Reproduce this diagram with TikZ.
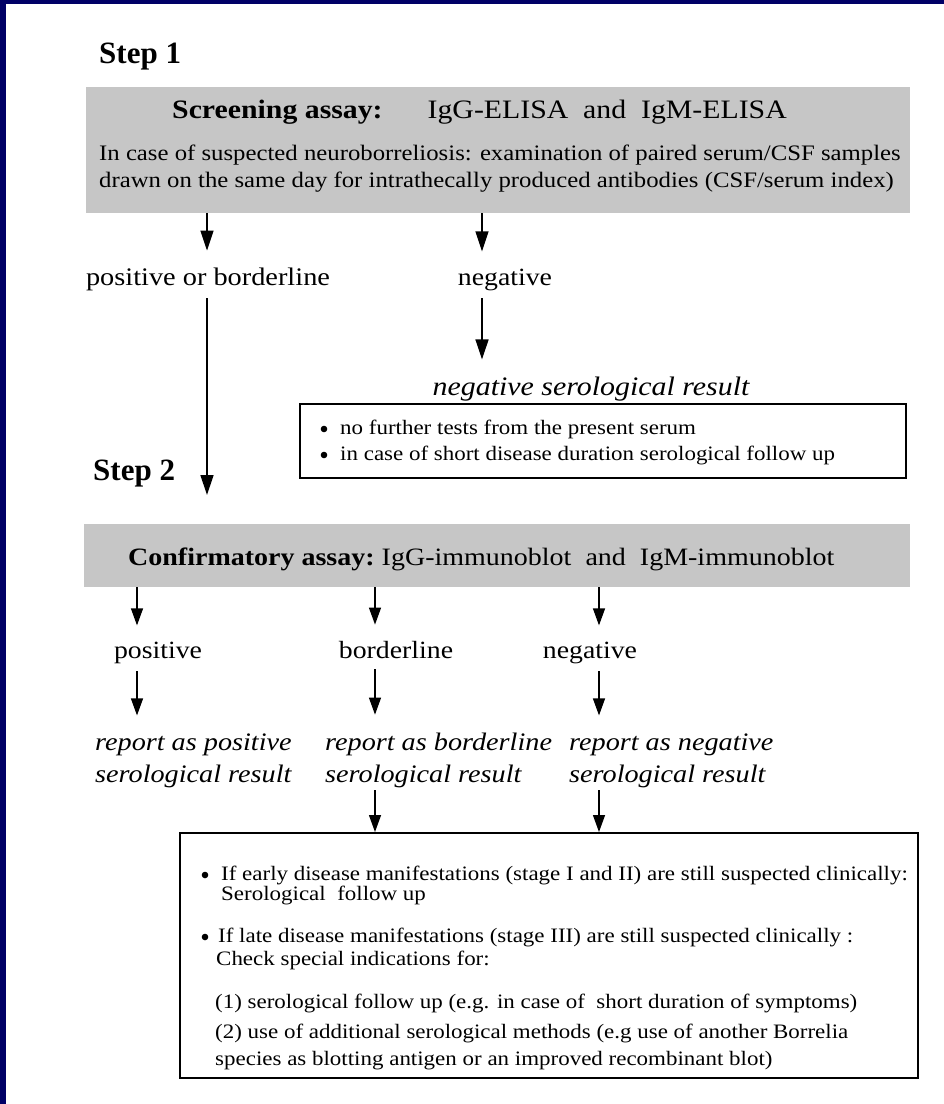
\documentclass[tikz,border=0pt]{standalone}
\usepackage{fontspec}
\setmainfont{Liberation Serif}[FakeStretch=1.12]
\newfontfamily\stepfont{Liberation Serif}
\usetikzlibrary{arrows.meta}
\definecolor{navyblue}{RGB}{0,0,102}
\definecolor{boxgray}{RGB}{198,198,198}
\newcommand\fsz[1]{\fontsize{#1pt}{#1pt}\selectfont}
\begin{document}
\begin{tikzpicture}[x=1pt,y=-1pt,
  txt/.style={inner sep=0pt, anchor=base west},
  ctxt/.style={inner sep=0pt, anchor=base},
  graybox/.style={fill=boxgray, draw=none, inner sep=0pt, anchor=north west},
  whitebox/.style={draw=black, line width=1.6pt, fill=white, inner sep=0pt, anchor=north west},
  bigarr/.style={line width=1.3pt, -{Triangle[width=13pt,length=20pt]}},
  arr/.style={line width=1.3pt, -{Triangle[width=12pt,length=17pt]}},
  steplbl/.style={txt, font=\stepfont\bfseries\fsz{31}},
  lbl/.style={ctxt, font=\fsz{24.8}},
  rep/.style={txt, font=\itshape\fsz{25.2}},
  boxtxt/.style={txt, font=\fsz{20.5}},
  bulletdot/.style={fill=black}
]
\fill[navyblue] (0,0) rectangle (944,1104);
\fill[white] (6,4) rectangle (944,1104);
\useasboundingbox (0,0) rectangle (944,1104);

% arrow columns
\coordinate (xa) at (207,0);
\coordinate (xb) at (482,0);
\coordinate (xc1) at (137,0);
\coordinate (xc2) at (375,0);
\coordinate (xc3) at (599,0);

% Step 1
\node[steplbl] (s1) at (99,63) {Step 1};
\node[graybox, minimum width=824pt, minimum height=126pt] (g1) at (86,87) {};
\node[txt, font=\fsz{26.6}] (h1) at (172,118) {\textbf{Screening assay:}\hspace{45pt}IgG-ELISA\ \ and\ \ IgM-ELISA};
\node[txt, font=\fsz{22.1}] (l1) at (99,160) {In case of suspected neuroborreliosis: examination of paired serum/CSF samples};
\node[txt, font=\fsz{22.1}] (l2) at (99,187) {drawn on the same day for intrathecally produced antibodies (CSF/serum index)};

\node[ctxt, font=\fsz{25.3}] (pob) at (208,285) {positive or borderline};
\node[lbl] (neg1) at (505,285) {negative};
\node[ctxt, font=\itshape\fsz{26.7}] (nsr) at (591,395) {negative serological result};

\node[whitebox, minimum width=606pt, minimum height=74pt] (nb) at (299,403) {};
\node[boxtxt] (nb1) at (319,434) {\hspace{21pt}no further tests from the present serum};
\node[boxtxt] (nb2) at (319,460) {\hspace{21pt}in case of short disease duration serological follow up};
\fill[bulletdot] ([shift={(5,-5)}]nb1.base west) circle (3.3);
\fill[bulletdot] ([shift={(5,-5)}]nb2.base west) circle (3.3);

% Step 2
\node[steplbl] (s2) at (93,480) {Step 2};
\node[graybox, minimum width=826pt, minimum height=63pt] (g2) at (84,524) {};
\node[txt, font=\fsz{25}] (h2) at (128,565) {\textbf{Confirmatory assay:}\ IgG-immunoblot\ \ and\ \ IgM-immunoblot};

\node[lbl] (p2) at (158,658) {positive};
\node[lbl] (bl2) at (396,658) {borderline};
\node[lbl] (ng2) at (590,658) {negative};

\node[rep] (r1a) at (95,750) {report as positive};
\node[rep] (r1b) at (95,782) {serological result};
\node[rep] (r2a) at (325,750) {report as borderline};
\node[rep] (r2b) at (325,782) {serological result};
\node[rep] (r3a) at (569,750) {report as negative};
\node[rep] (r3b) at (569,782) {serological result};

\node[whitebox, minimum width=738pt, minimum height=245pt] (eb) at (179,832) {};
\node[boxtxt] (e1) at (200,880) {\hspace{21pt}If early disease manifestations (stage I and II) are still suspected clinically:};
\node[boxtxt] (e2) at (221,900) {Serological\ \ follow up};
\node[boxtxt] (e3) at (200,942) {\hspace{18pt}If late disease manifestations (stage III) are still suspected clinically :};
\node[boxtxt] (e4) at (216,965) {Check special indications for:};
\node[boxtxt] (e5) at (215,1008) {(1) serological follow up (e.g. in case of\ \ short duration of symptoms)};
\node[boxtxt] (e6) at (215,1038) {(2) use of additional serological methods (e.g use of another Borrelia};
\node[boxtxt] (e7) at (215,1065) {species as blotting antigen or an improved recombinant blot)};
\fill[bulletdot] ([shift={(5,-5)}]e1.base west) circle (3.3);
\fill[bulletdot] ([shift={(5,-5)}]e3.base west) circle (3.3);

% connectors
\draw[bigarr, shorten >=16.7pt] (g1.south -| xa) -- (pob.north -| xa);
\draw[bigarr, shorten >=17pt] (g1.south -| xb) -- (neg1.north -| xb);
\draw[bigarr, shorten <=7.5pt, shorten >=29pt] (pob.south -| xa) -- (g2.north -| xa);
\draw[bigarr, shorten <=7.6pt, shorten >=16.8pt] (neg1.south -| xb) -- (nsr.north -| xb);

\draw[arr, shorten >=16pt] (g2.south -| xc1) -- (p2.north -| xc1);
\draw[arr, shorten >=16pt] (g2.south -| xc2) -- (bl2.north -| xc2);
\draw[arr, shorten >=16pt] (g2.south -| xc3) -- (ng2.north -| xc3);

\draw[arr, shorten <=7.6pt, shorten >=17.7pt] (p2.south -| xc1) -- (r1a.north -| xc1);
\draw[arr, shorten <=11pt, shorten >=17.7pt] (bl2.south -| xc2) -- (r2a.north -| xc2);
\draw[arr, shorten <=7.6pt, shorten >=17.7pt] (ng2.south -| xc3) -- (r3a.north -| xc3);

\draw[arr, shorten <=2.5pt] (r2b.south -| xc2) -- (eb.north -| xc2);
\draw[arr, shorten <=2.5pt] (r3b.south -| xc3) -- (eb.north -| xc3);
\end{tikzpicture}
\end{document}
